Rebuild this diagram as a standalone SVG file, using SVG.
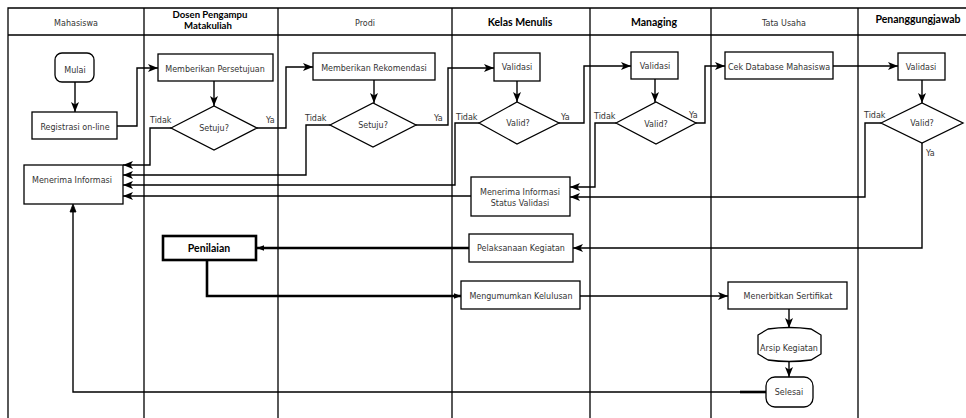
<svg xmlns="http://www.w3.org/2000/svg" width="966" height="418" viewBox="0 0 966 418">
<defs>
<marker id="ah" markerUnits="userSpaceOnUse" markerWidth="10" markerHeight="10" viewBox="0 0 10 10" refX="10" refY="5" orient="auto">
<path d="M0,1 L10,5 L0,9 L2.5,5 z" fill="#000"/>
</marker>
<marker id="ahs" markerUnits="userSpaceOnUse" markerWidth="7" markerHeight="7" viewBox="0 0 10 10" refX="10" refY="5" orient="auto">
<path d="M0,1 L10,5 L0,9 z" fill="#000"/>
</marker>
<style>
.lane{stroke:#000;stroke-width:1.3;fill:none}
.box{fill:#fff;stroke:#000;stroke-width:1.3}
.bold{fill:#fff;stroke:#000;stroke-width:2.6}
.t{font-family:"DejaVu Sans",Verdana,sans-serif;font-size:8px;fill:#333;text-anchor:middle}
.tl{font-family:"DejaVu Sans",Verdana,sans-serif;font-size:8px;fill:#333}
.hb{font-family:Lato,"Open Sans",sans-serif;font-weight:bold;font-size:10.5px;fill:#000;text-anchor:middle}
.hs{font-size:9.6px}
.c{fill:none;stroke:#000;stroke-width:1.4;marker-end:url(#ah)}
.cn{fill:none;stroke:#000;stroke-width:1.4}
.ct{fill:none;stroke:#000;stroke-width:2.6;marker-end:url(#ahs)}
</style>
</defs>
<rect width="966" height="418" fill="#fff"/>
<g id="lanes" class="lane">
<path d="M8,418 V8 H966 M8,35 H966 M144,8 V418 M278,8 V418 M452,8 V418 M590,8 V418 M711,8 V418 M858,8 V418"/>
</g>
<g id="headers">
<text class="t" x="76" y="26">Mahasiswa</text>
<text class="hb hs" x="210" y="17.5">Dosen Pengampu</text>
<text class="hb hs" x="208" y="29">Matakuliah</text>
<text class="t" x="365" y="26">Prodi</text>
<text class="hb" x="520" y="26">Kelas Menulis</text>
<text class="hb" x="654" y="26">Managing</text>
<text class="t" x="784" y="26">Tata Usaha</text>
<text class="hb" x="918" y="23">Penanggungjawab</text>
</g>
<g id="connectors">
<path class="c" d="M75,82 V112"/>
<path class="c" d="M117,126 H137 V68 H158"/>
<path class="c" d="M214,81 V106"/>
<path class="c" d="M257,128 H286 V67 H313"/>
<path class="c" d="M171,128 H150 V165 H123"/>
<path class="c" d="M374,80 V103"/>
<path class="c" d="M416,125 H448 V68 H494"/>
<path class="c" d="M330,125 H306 V175 H123"/>
<path class="c" d="M517,81 V102"/>
<path class="c" d="M559,123 H584 V66 H631"/>
<path class="c" d="M479,123 H455 V185 H123"/>
<path class="c" d="M655,79 V102"/>
<path class="c" d="M696,123 H705 V66 H725"/>
<path class="c" d="M616,123 H595 V187 H570"/>
<path class="c" d="M833,66 H898"/>
<path class="c" d="M922,80 V103"/>
<path class="c" d="M881,123 H865 V197 H570"/>
<path class="c" d="M922,143 V248 H573"/>
<path class="c" d="M471,196 H123"/>
<path class="ct" d="M469,248 H257"/>
<path class="ct" d="M207,260 V296 H461"/>
<path class="c" d="M580,296 H728"/>
<path class="c" d="M789,309 V328"/>
<path class="c" d="M789,361 V377"/>
<path class="cn" d="M766,392 H73 V210"/>
<path d="M73,212 L70,212 L73,204 L76,212 z" fill="#000" stroke="#000" stroke-width="0.8"/>
<path class="cn" d="M740,392 H766" style="stroke-width:2.6"/>
</g>
<g id="mulai"><rect class="box" x="55" y="53" width="39" height="29" rx="7"/><text class="t" x="75" y="73">Mulai</text></g>
<g id="registrasi"><rect class="box" x="32" y="112" width="85" height="27"/><text class="t" x="75" y="130">Registrasi on-line</text></g>
<g id="menerima-informasi"><rect class="box" x="24" y="165" width="99" height="39"/><text class="t" x="72" y="183">Menerima Informasi</text></g>
<g id="memberikan-persetujuan"><rect class="box" x="158" y="54" width="115" height="27"/><text class="t" x="215" y="72">Memberikan Persetujuan</text></g>
<g id="setuju-dosen"><polygon class="box" points="171,128 214,106 257,128 214,150"/><text class="t" x="214" y="131">Setuju?</text>
<text class="tl" x="150" y="123">Tidak</text><text class="tl" x="266" y="123">Ya</text></g>
<g id="penilaian"><rect class="bold" x="163" y="236" width="93" height="24"/><text class="hb" x="209" y="252">Penilaian</text></g>
<g id="memberikan-rekomendasi"><rect class="box" x="313" y="53" width="122" height="27"/><text class="t" x="374" y="71">Memberikan Rekomendasi</text></g>
<g id="setuju-prodi"><polygon class="box" points="330,125 373,103 416,125 373,147"/><text class="t" x="373" y="128">Setuju?</text>
<text class="tl" x="305" y="121">Tidak</text><text class="tl" x="434" y="121">Ya</text></g>
<g id="validasi-kelas"><rect class="box" x="494" y="53" width="46" height="28"/><text class="t" x="517" y="70">Validasi</text></g>
<g id="valid-kelas"><polygon class="box" points="479,123 517,102 559,123 517,144"/><text class="t" x="518" y="126">Valid?</text>
<text class="tl" x="456" y="120">Tidak</text><text class="tl" x="561" y="120">Ya</text></g>
<g id="status-validasi"><rect class="box" x="471" y="177" width="99" height="39"/><text class="t" x="520" y="195">Menerima Informasi</text><text class="t" x="520" y="206">Status Validasi</text></g>
<g id="pelaksanaan"><rect class="box" x="469" y="234" width="104" height="28"/><text class="t" x="521" y="251">Pelaksanaan Kegiatan</text></g>
<g id="mengumumkan"><rect class="box" x="461" y="281" width="119" height="28"/><text class="t" x="521" y="299">Mengumumkan Kelulusan</text></g>
<g id="validasi-managing"><rect class="box" x="631" y="52" width="47" height="27"/><text class="t" x="655" y="69">Validasi</text></g>
<g id="valid-managing"><polygon class="box" points="616,123 656,102 696,123 656,144"/><text class="t" x="656" y="127">Valid?</text>
<text class="tl" x="594" y="119">Tidak</text><text class="tl" x="689" y="118">Ya</text></g>
<g id="cek-database"><rect class="box" x="725" y="52" width="108" height="27"/><text class="t" x="779" y="70">Cek Database Mahasiswa</text></g>
<g id="menerbitkan"><rect class="box" x="728" y="282" width="119" height="27"/><text class="t" x="788" y="299">Menerbitkan Sertifikat</text></g>
<g id="arsip"><path class="box" d="M758,335 L768,329 Q789,326 811,329 L821,335 V354 L811,360 Q789,363 768,360 L758,354 Z"/><text class="t" x="789" y="351">Arsip Kegiatan</text></g>
<g id="selesai"><rect class="box" x="766" y="377" width="47" height="30" rx="9"/><text class="t" x="789" y="395">Selesai</text></g>
<g id="validasi-pj"><rect class="box" x="898" y="53" width="47" height="27"/><text class="t" x="921" y="70">Validasi</text></g>
<g id="valid-pj"><polygon class="box" points="881,123 922,103 963,123 922,143"/><text class="t" x="922" y="126">Valid?</text>
<text class="tl" x="864" y="118">Tidak</text><text class="tl" x="926" y="156">Ya</text></g>
</svg>
